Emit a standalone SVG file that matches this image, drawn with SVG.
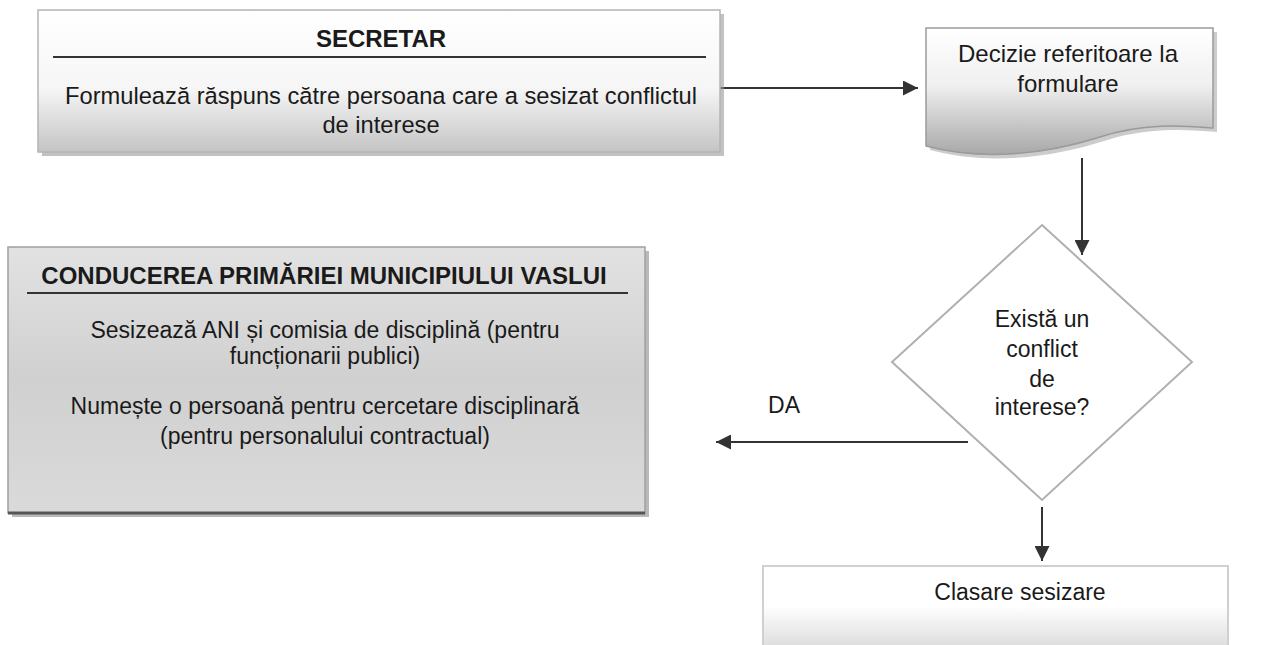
<svg xmlns="http://www.w3.org/2000/svg" width="1277" height="645" viewBox="0 0 1277 645">
<defs>
<style>
text{font-family:"Liberation Sans",Arial,sans-serif;fill:#1a1a1a;text-anchor:middle}
.b{font-size:23px}
.h{font-size:24px;font-weight:bold}
.conn{stroke:#333;stroke-width:2;fill:none}
</style>
<linearGradient id="gSec" x1="0" y1="0" x2="0" y2="1">
<stop offset="0" stop-color="#ffffff"/>
<stop offset="0.55" stop-color="#f6f6f6"/>
<stop offset="1" stop-color="#c4c4c4"/>
</linearGradient>
<linearGradient id="gDoc" x1="0" y1="0" x2="0" y2="1">
<stop offset="0" stop-color="#ffffff"/>
<stop offset="0.45" stop-color="#f0f0f0"/>
<stop offset="1" stop-color="#a8a8a8"/>
</linearGradient>
<linearGradient id="gCon" x1="0" y1="0" x2="0" y2="1">
<stop offset="0" stop-color="#e2e2e2"/>
<stop offset="0.5" stop-color="#d0d0d0"/>
<stop offset="1" stop-color="#dadada"/>
</linearGradient>
<linearGradient id="gCla" x1="0" y1="0" x2="0" y2="1">
<stop offset="0" stop-color="#ffffff"/>
<stop offset="0.5" stop-color="#ffffff"/>
<stop offset="1" stop-color="#dedede"/>
</linearGradient>
<marker id="ahL" viewBox="0 0 10 10" refX="10" refY="5" markerWidth="7.5" markerHeight="7.5" orient="auto">
<path d="M0,0 L10,5 L0,10 Z" fill="#333"/>
</marker>
</defs>
<rect width="1277" height="645" fill="#ffffff"/>

<g id="connectors">
<line class="conn" x1="720" y1="88" x2="918" y2="88" marker-end="url(#ahL)"/>
<line class="conn" x1="1082" y1="158" x2="1082" y2="255" marker-end="url(#ahL)"/>
<line class="conn" x1="968" y1="442" x2="716" y2="442" marker-end="url(#ahL)"/>
<line class="conn" x1="1042" y1="507" x2="1042" y2="561" marker-end="url(#ahL)"/>
<text class="b" x="784" y="413">DA</text>
</g>

<g id="secretar">
<rect x="42" y="14" width="682" height="142" fill="#9a9a9a" opacity="0.6"/>
<rect x="38" y="10" width="682" height="142" fill="url(#gSec)" stroke="#b4b4b4" stroke-width="1.5"/>
<text class="h" x="381" y="47">SECRETAR</text>
<line x1="53" y1="57" x2="706" y2="57" stroke="#333" stroke-width="2"/>
<text class="b" x="381" y="104" style="font-size:23.7px">Formulează răspuns către persoana care a sesizat conflictul</text>
<text class="b" x="381" y="133" style="font-size:23.7px">de interese</text>
</g>

<g id="decizie">
<path d="M930,32 H1217 V132 C1190,130 1150,126 1104,141 C1054,157 990,166 930,150 Z" fill="#9a9a9a" opacity="0.5"/>
<path d="M926,28 H1213 V128 C1186,126 1146,122 1100,137 C1050,153 986,162 926,146 Z" fill="url(#gDoc)" stroke="#9a9a9a" stroke-width="1.5"/>
<text class="b" x="1068" y="62" style="font-size:24px">Decizie referitoare la</text>
<text class="b" x="1068" y="92" style="font-size:24px">formulare</text>
</g>

<g id="decizie-conflict">
<polygon points="1042,225 1192,362 1042,500 892,362" fill="#ffffff" stroke="#b0b0b0" stroke-width="2"/>
<text class="b" x="1042" y="327">Există un</text>
<text class="b" x="1042" y="357">conflict</text>
<text class="b" x="1042" y="387">de</text>
<text class="b" x="1042" y="415">interese?</text>
</g>

<g id="conducerea">
<rect x="12" y="251" width="637" height="266" fill="#8a8a8a" opacity="0.6"/>
<rect x="8" y="247" width="637" height="266" fill="url(#gCon)" stroke="#a0a0a0" stroke-width="1.5"/>
<line x1="8" y1="513" x2="645" y2="513" stroke="#555" stroke-width="3"/>
<text class="h" x="324" y="284">CONDUCEREA PRIMĂRIEI MUNICIPIULUI VASLUI</text>
<line x1="27" y1="293" x2="628" y2="293" stroke="#333" stroke-width="2"/>
<text class="b" x="325" y="338">Sesizează ANI și comisia de disciplină (pentru</text>
<text class="b" x="325" y="364">funcționarii publici)</text>
<text class="b" x="325" y="414">Numește o persoană pentru cercetare disciplinară</text>
<text class="b" x="325" y="444">(pentru personalului contractual)</text>
</g>

<g id="clasare">
<rect x="763" y="566" width="465" height="80" fill="url(#gCla)" stroke="#d0d0d0" stroke-width="2"/>
<text class="b" x="1020" y="600">Clasare sesizare</text>
</g>
</svg>
